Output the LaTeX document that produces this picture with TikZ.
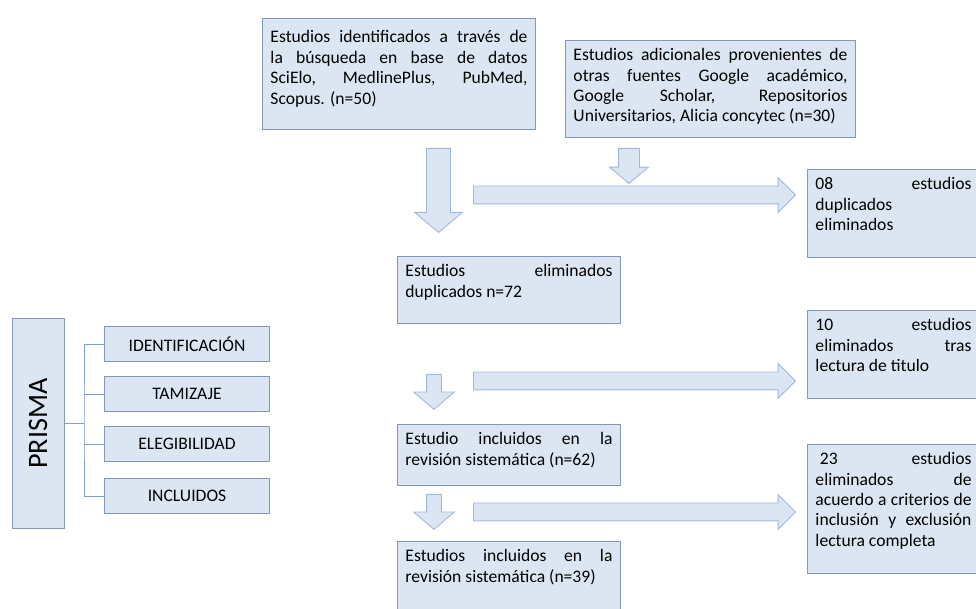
\documentclass[tikz,border=0pt]{standalone}
\usepackage{fontspec}
\setmainfont{Carlito}
\usepackage{tikz}
\usetikzlibrary{shapes.arrows}

\definecolor{relleno}{HTML}{DCE6F2}
\definecolor{borde}{HTML}{8398B5}
\definecolor{bordeflecha}{HTML}{9FB8D9}
\definecolor{linea}{HTML}{7F9CC6}

\begin{document}
\begin{tikzpicture}[x=0.025cm, y=-0.025cm,
	caja/.style={draw=borde, fill=relleno, line width=0.7pt, anchor=north west,
		inner xsep=0.2cm, inner ysep=0.2cm, font=\fontsize{12.5}{14.5}\selectfont},
	etapa/.style={draw=borde, fill=relleno, line width=0.7pt, anchor=north west,
		minimum width=4.125cm, minimum height=0.875cm, inner sep=0pt,
		font=\fontsize{12.5}{14.5}\selectfont},
	flecha/.style={single arrow, draw=bordeflecha, fill=relleno, line width=0.6pt,
		inner xsep=0pt, anchor=tail},
	conector/.style={draw=linea, line width=0.6pt}]
	\useasboundingbox (0,0) rectangle (976,609);
	\clip (0,0) rectangle (976,609);

				% cajas del flujo
				\node[caja] (busqueda) at (262,18){\parbox[t][2.375cm][t]{6.425cm}{\vspace*{3pt}Estudios identificados a través de\linebreak la búsqueda en base de datos\linebreak SciElo, MedlinePlus, PubMed,\linebreak Scopus. (n=50)}};
				\node[caja] (otras) at (565,40){\parbox[t][2.025cm][t]{6.85cm}{Estudios adicionales provenientes de\linebreak otras fuentes Google académico,\linebreak Google Scholar, Repositorios\linebreak Universitarios, Alicia concytec (n=30)}};
				\node[caja] (dup) at (807,169){\parbox[t][1.8cm][t]{3.9cm}{08 estudios\linebreak duplicados\\eliminados}};
				\node[caja] (elimdup) at (397,256){\parbox[t][1.275cm][t]{5.175cm}{Estudios eliminados\linebreak duplicados n=72}};
				\node[caja] (titulo) at (807,310){\parbox[t][1.8cm][t]{3.9cm}{10 estudios\linebreak eliminados tras\linebreak lectura de titulo}};
				\node[caja] (incl62) at (397,424){\parbox[t][1.125cm][t]{5.175cm}{Estudio incluidos en la\linebreak revisión sistemática (n=62)}};
				\node[caja] (criterios) at (807,444){\parbox[t][2.825cm][t]{3.9cm}{\hspace*{0.25em}23 estudios\linebreak eliminados de\linebreak acuerdo a criterios de\linebreak inclusión y exclusión\linebreak lectura completa}};
				\node[caja] (incl39) at (397,541){\parbox[t][1.85cm][t]{5.175cm}{Estudios incluidos en la\linebreak revisión sistemática (n=39)}};

				% flechas de bloque
				\node[flecha, rotate=-90, minimum height=2.1cm, inner ysep=0.2875cm,
				single arrow head extend=0.3cm, single arrow tip angle=100] (f1) at (438.5,148){};
				\node[flecha, rotate=-90, minimum height=0.875cm, inner ysep=0.25cm,
				single arrow head extend=0.225cm, single arrow tip angle=100] (f2) at (629,148){};
				\node[flecha, minimum height=8.05cm, inner ysep=0.2125cm,
				single arrow head extend=0.2125cm] (f3) at (473,195){};
				\node[flecha, rotate=-90, minimum height=0.875cm, inner ysep=0.175cm,
				single arrow head extend=0.325cm, single arrow tip angle=99] (f4) at (434,374){};
				\node[flecha, minimum height=8.05cm, inner ysep=0.2125cm,
				single arrow head extend=0.2125cm] (f5) at (473,381){};
				\node[flecha, rotate=-90, minimum height=0.875cm, inner ysep=0.175cm,
				single arrow head extend=0.325cm, single arrow tip angle=99] (f6) at (434,494){};
				\node[flecha, minimum height=8.05cm, inner ysep=0.2125cm,
				single arrow head extend=0.2125cm] (f7) at (473,512){};

				% fases PRISMA
				\node[draw=borde, fill=relleno, line width=0.7pt, rotate=90,
				minimum width=5.225cm, minimum height=1.3cm,
				font=\fontsize{20}{24}\selectfont] (prisma) at (38,423.5){PRISMA};
				\node[etapa] (ident) at (104,326){IDENTIFICACIÓN};
				\node[etapa] (tamiz) at (104,376){TAMIZAJE};
				\node[etapa] (eleg) at (104,426){ELEGIBILIDAD};
				\node[etapa] (incl) at (104,478){INCLUIDOS};
				\coordinate (rama) at (84,423.5);
				\draw[conector] (prisma.south) -- (rama);
				\draw[conector] (ident.west) -| (rama) |- (incl.west);
				\draw[conector] (tamiz.west) -- (tamiz.west -| rama);
				\draw[conector] (eleg.west) -- (eleg.west -| rama);
\end{tikzpicture}
\end{document}
